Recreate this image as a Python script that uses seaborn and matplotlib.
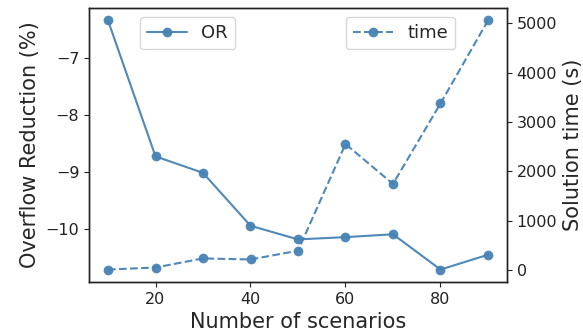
import matplotlib
matplotlib.use("Agg")
import matplotlib.pyplot as plt
import seaborn as sns
import pandas as pd

scenarios = [10, 20, 30, 40, 50, 60, 70, 80, 90]
overflow_reduction = [-6.34, -8.73, -9.02, -9.95, -10.19, -10.15, -10.10, -10.72, -10.46]
solution_time = [12, 53, 237, 216, 393, 2553, 1745, 3375, 5055]

df = pd.DataFrame({"scenarios": scenarios, "OR": overflow_reduction, "time": solution_time})

sns.set_style("ticks")
plt.rcParams['font.family'] = ['DejaVu Sans']

color = "#4682B4"
fig = plt.figure(figsize=(5.83, 3.34), dpi=100)
ax = fig.add_axes([89/583, 1-282/334, 418/583, 274/334])
ax2 = ax.twinx()

sns.lineplot(data=df, x="scenarios", y="OR", ax=ax, color=color, marker="o",
             markersize=7, markeredgewidth=0, linewidth=1.5, label="OR", alpha=0.95)
sns.lineplot(data=df, x="scenarios", y="time", ax=ax2, color=color, marker="o",
             markersize=7, markeredgewidth=0, linewidth=1.5, linestyle="--", label="time", alpha=0.95)

ax.set_xlabel("Number of scenarios", fontsize=15)
ax.set_ylabel("Overflow Reduction (%)", fontsize=15)
ax2.set_ylabel("Solution time (s)", fontsize=15)
ax.set_xticks([20, 40, 60, 80])
ax.set_yticks([-7, -8, -9, -10])
ax2.set_yticks([0, 1000, 2000, 3000, 4000, 5000])
for a in (ax, ax2):
    a.tick_params(labelsize=11.5, colors="#222222")
    for s in a.spines.values():
        s.set_color("#222222")
        s.set_linewidth(1.0)

ax.legend(loc="upper left", bbox_to_anchor=(0.122, 0.968), borderaxespad=0,
          fontsize=13, handlelength=2.2)
ax2.legend(loc="upper right", bbox_to_anchor=(0.876, 0.968), borderaxespad=0,
           fontsize=13, handlelength=2.2)

fig.savefig("out.png", dpi=100)
